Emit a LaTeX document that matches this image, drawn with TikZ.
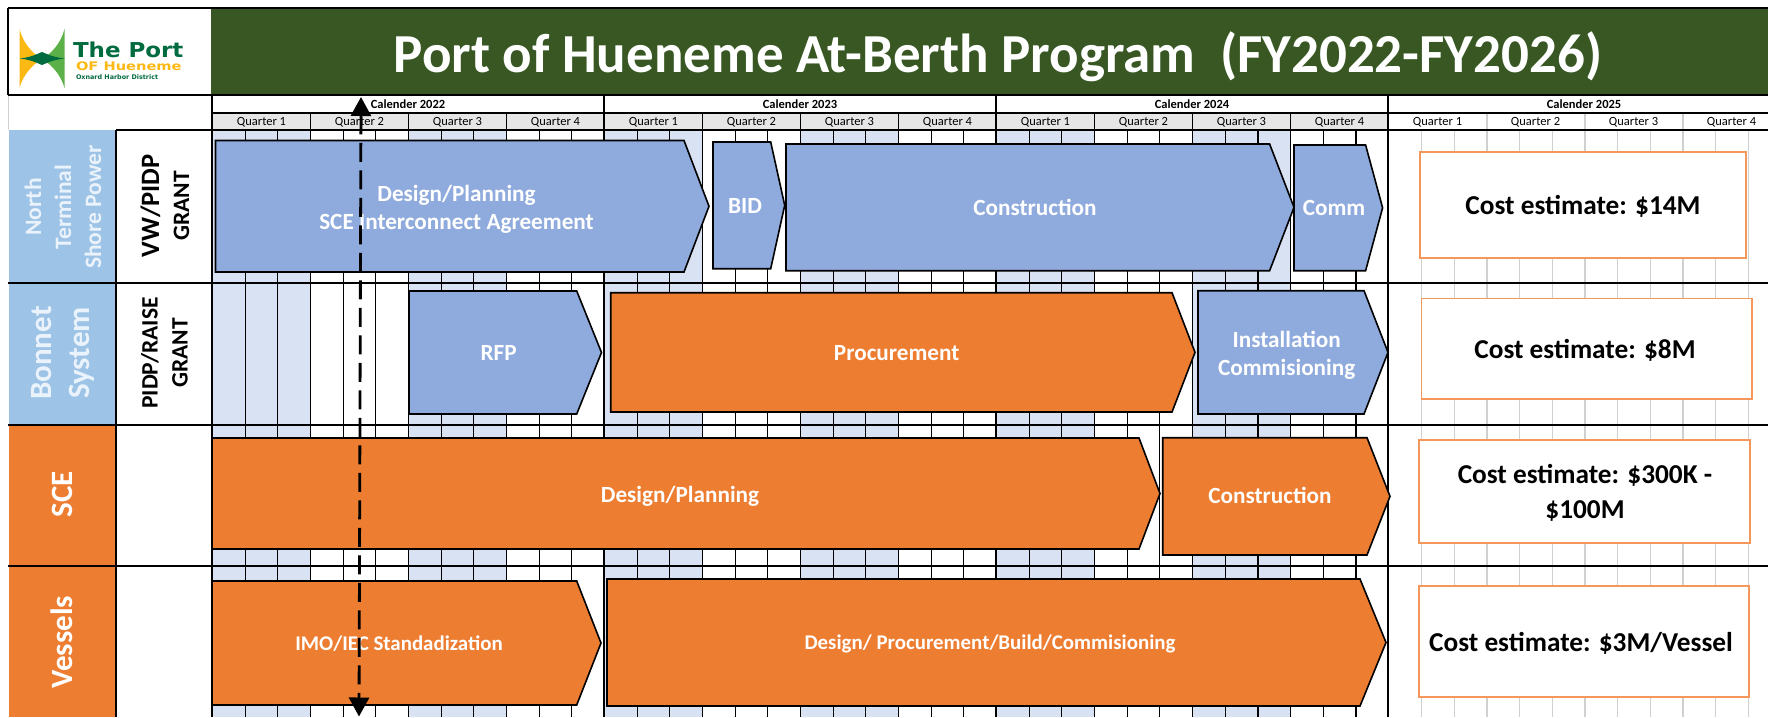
\documentclass[tikz,border=0pt]{standalone}
\usepackage{fontspec}
\setmainfont{Carlito}
\newfontfamily\logofont{DejaVu Sans}
\usetikzlibrary{arrows.meta}
\definecolor{titlegreen}{HTML}{385723}
\definecolor{barblue}{HTML}{8FAADC}
\definecolor{barorange}{HTML}{ED7D31}
\definecolor{lightblue}{HTML}{9DC3E6}
\definecolor{paleblue}{HTML}{D9E2F3}
\definecolor{headgrey}{HTML}{E7E6E6}
\definecolor{gridgrey}{HTML}{D0D0D0}
\definecolor{boxline}{HTML}{F4975A}
\definecolor{logoyellow}{HTML}{FDB913}
\definecolor{logogreen}{HTML}{5BB147}
\definecolor{logodark}{HTML}{006B3F}
\definecolor{palewhite}{HTML}{EAF2FB}
\newcommand{\fs}[1]{\fontsize{#1}{#1}\selectfont}
\tikzset{
  x=1pt,y=-1pt,
  nodetext/.style={inner sep=0pt,outer sep=0pt},
  bartext/.style={nodetext,text=white,font=\bfseries\fontsize{23.2}{28}\selectfont,align=center},
  bartextsmall/.style={nodetext,text=white,font=\bfseries\fontsize{20.9}{24}\selectfont,align=center},
  barshape/.style={line width=1.6pt,draw=black,line join=miter},
  rowlabel/.style={nodetext,rotate=90,align=center,text=white,font=\bfseries\fontsize{31}{38}\selectfont},
  grantlabel/.style={nodetext,rotate=90,align=center,text=black,font=\bfseries\fontsize{23.5}{30}\selectfont},
  costbox/.style={draw=boxline,line width=1.4pt,fill=white},
  costtext/.style={nodetext,align=center,text=black,font=\bfseries\fontsize{27.3}{35}\selectfont},
  yearlabel/.style={nodetext,font=\bfseries\fontsize{12.5}{14}\selectfont},
  quarterlabel/.style={nodetext,font=\fontsize{12.5}{14}\selectfont},
  monthline/.style={line width=1.1pt,draw=black},
  quarterline/.style={line width=1.4pt,draw=black},
  yearline/.style={line width=2.4pt,draw=black},
  rowline/.style={line width=2pt,draw=black},
  greyline/.style={line width=1.3pt,draw=gridgrey},
  todayline/.style={line width=2.8pt,dash pattern=on 19pt off 8.5pt,
     {Triangle[length=19pt,width=20pt]}-{Triangle[length=19pt,width=20pt]}},
}
% name, left, top, shoulder, tip, bottom, colour
\newcommand{\gbar}[7]{%
  \draw[barshape,fill=#7] (#2,#3) -- (#4,#3) -- (#5,{(#3+#6)/2}) -- (#4,#6) -- (#2,#6) -- cycle;
  \coordinate (#1) at ({(#2+#4)/2},{(#3+#6)/2});
}
\begin{document}
\begin{tikzpicture}
\useasboundingbox (0,0) rectangle (1768,717);
\fill[white] (0,0) rectangle (1768,717);
% ---------- calendar shading
\foreach \yr in {0,1,2}{
  \fill[headgrey] ({212+392*\yr},113) rectangle ({212+392*\yr+392},130);
  \foreach \q in {0,2}
    \fill[paleblue] ({212.5+392*\yr+98*\q},130) rectangle ({212.5+392*\yr+98*\q+98},717);
}
% ---------- month and quarter lines
\foreach \m in {1,...,35}{
  \draw[monthline] ({212.5+32.67*\m},130) -- ({212.5+32.67*\m},717);
}
\foreach \m in {1,...,11}{
  \draw[greyline] ({1389+32.67*\m},130) -- ({1389+32.67*\m},717);
}
\foreach \q in {1,2,3}{
  \foreach \yr in {0,1,2}
    \draw[quarterline] ({212.5+392*\yr+98*\q},113) -- ({212.5+392*\yr+98*\q},717);
  \draw[greyline] ({1389+98*\q},113) -- ({1389+98*\q},130);
}
% ---------- left cells
\fill[lightblue] (8.5,130) rectangle (116,283);
\fill[lightblue] (8.5,283) rectangle (116,425);
\fill[barorange] (8.5,425) rectangle (116,566);
\fill[barorange] (8.5,566) rectangle (116,717);
\draw[line width=.8pt,draw=gridgrey] (8.5,95) -- (8.5,130);
% ---------- title band
\fill[titlegreen] (211,8) rectangle (1768,95);
\fill[white] (8,8) rectangle (211,95);
% ---------- logo
\fill[logoyellow] (19.5,29) .. controls (23,43) and (32,53) .. (42,59) .. controls (32,65) and (23,75) .. (19.5,88) -- cycle;
\fill[logogreen] (64.5,29) .. controls (61,43) and (52,53) .. (42,59) .. controls (52,65) and (61,75) .. (64.5,88) -- cycle;
\fill[logodark] (20,58.5) .. controls (32,57) and (37,54) .. (42,52) .. controls (47,54) and (52,57) .. (64.5,58.5) .. controls (52,60) and (47,63) .. (42,65) .. controls (37,63) and (32,60) .. (20,58.5) -- cycle;
\node[nodetext,anchor=base west,text=logodark,xscale=1.12] (logoa) at (73,58) {\logofont\bfseries\fs{20.5}The Port};
\node[nodetext,anchor=base west,text=logoyellow,xscale=1.24] (logob) at (76,70.5) {\logofont\bfseries\fs{11.8}OF Hueneme};
\node[nodetext,anchor=base west,text=logodark] (logoc) at (76,79) {\logofont\bfseries\fs{6.4}Oxnard Harbor District};
% ---------- frame and main lines
\draw[rowline] (8,8.5) -- (1768,8.5);
\draw[rowline] (8,8) -- (8,95);
\draw[rowline] (8,95) -- (1768,95);
\draw[rowline] (212,113) -- (1768,113);
\draw[rowline] (116,130) -- (1768,130);
\draw[rowline] (8,283) -- (1768,283);
\draw[rowline] (8,425) -- (1768,425);
\draw[rowline] (8,566) -- (1768,566);
\draw[rowline] (116,130) -- (116,717);
\foreach \yr in {0,1,2,3}
  \draw[yearline] ({212+392*\yr},95) -- ({212+392*\yr},717);
% ---------- header text
\node[nodetext,anchor=base,text=white,font=\bfseries\fs{55}] (title) at (998,72) {Port of Hueneme At-Berth Program\ \ (FY2022-FY2026)};
\foreach \yr/\lab in {0/2022,1/2023,2/2024,3/2025}{
  \node[yearlabel] (year\yr) at ({408+392*\yr},104.5) {Calender \lab};
  \foreach \q in {1,2,3,4}
    \node[quarterlabel] (q\yr\q) at ({212.5+392*\yr+98*\q-49},122.5) {Quarter \q};
}
% ---------- row labels
\node[rowlabel,font=\bfseries\fontsize{23.5}{30}\selectfont,text=palewhite] (north) at (63,207) {North\\Terminal\\Shore Power};
\node[rowlabel,text=palewhite] (bonnet) at (63,353) {Bonnet\\System};
\node[rowlabel] (sce) at (62,494) {SCE};
\node[rowlabel] (vessels) at (62,642) {Vessels};
\node[grantlabel] (vw) at (165,206) {{\fs{26.5}VW/PIDP}\\GRANT};
\node[grantlabel] (pidp) at (164.5,353) {PIDP/RAISE\\GRANT};
% ---------- bars
\gbar{a1}{215.5}{140.5}{684}{709}{272}{barblue}
\gbar{a2}{713}{142}{770.7}{784.7}{268.7}{barblue}
\gbar{a3}{786}{144}{1269.6}{1294}{270.7}{barblue}
\gbar{a4}{1294}{145}{1365.6}{1382.6}{270.7}{barblue}
\gbar{b1}{409}{291}{576.7}{601.5}{414}{barblue}
\gbar{b2}{610.7}{292.7}{1172}{1195}{412}{barorange}
\gbar{b3}{1198}{290.7}{1364}{1388}{414}{barblue}
\gbar{c1}{212}{438}{1139}{1160}{549}{barorange}
\gbar{c2}{1162.7}{437.7}{1367}{1390}{555}{barorange}
\gbar{d1}{212}{581}{576.7}{601}{705}{barorange}
\gbar{d2}{607}{579}{1360}{1386}{706}{barorange}
\node[bartext] (ta1) at (456.5,209) {Design/Planning\\SCE Interconnect Agreement};
\node[bartext] (ta2) at (745,206) {BID};
\node[bartext] (ta3) at (1035,207) {Construction};
\node[bartext] (ta4) at (1334,207.5) {Comm};
\node[bartext] (tb1) at (498.6,353) {RFP};
\node[bartext] (tb2) at (896.7,353) {Procurement};
\node[bartext] (tb3) at (1286.7,355) {Installation\\Commisioning};
\node[bartext] (tc1) at (680,496) {Design/Planning};
\node[bartext] (tc2) at (1270,495.5) {Construction};
\node[bartextsmall] (td1) at (399,644) {IMO/IEC Standadization};
\node[bartextsmall] (td2) at (990,644) {Design/ Procurement/Build/Commisioning};
% ---------- cost boxes
\draw[costbox] (1420,152) rectangle (1746,258);
\draw[costbox] (1421.5,298.7) rectangle (1752,399);
\draw[costbox] (1419,440) rectangle (1750,543);
\draw[costbox] (1419,586) rectangle (1749,697);
\node[costtext] (k1) at (1583,206) {Cost estimate: \$14M};
\node[costtext] (k2) at (1585,350) {Cost estimate: \$8M};
\node[costtext] (k3) at (1585,493) {Cost estimate: \$300K -\\\$100M};
\node[costtext] (k4) at (1581,643) {Cost estimate: \$3M/Vessel};
% ---------- today marker
\coordinate (todaytop) at (361,97);
\coordinate (todaybot) at (359,716.5);
\draw[todayline] (todaytop) -- (todaybot);
\end{tikzpicture}
\end{document}
